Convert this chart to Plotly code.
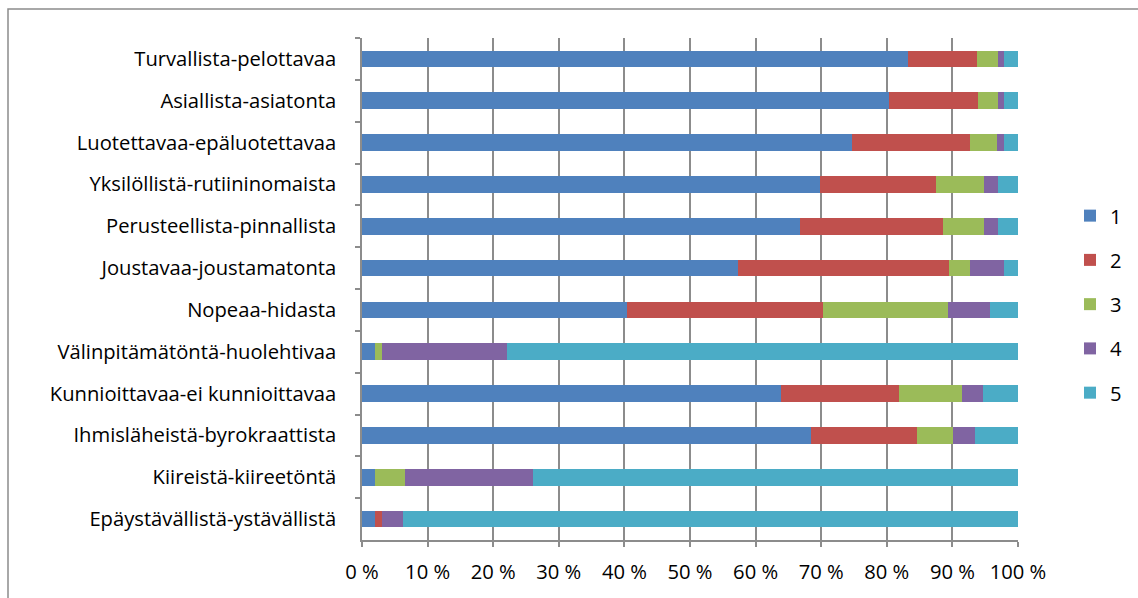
import plotly.graph_objects as go

categories = [
    "Turvallista-pelottavaa",
    "Asiallista-asiatonta",
    "Luotettavaa-epäluotettavaa",
    "Yksilöllistä-rutiininomaista",
    "Perusteellista-pinnallista",
    "Joustavaa-joustamatonta",
    "Nopeaa-hidasta",
    "Välinpitämätöntä-huolehtivaa",
    "Kunnioittavaa-ei kunnioittavaa",
    "Ihmisläheistä-byrokraattista",
    "Kiireistä-kiireetöntä",
    "Epäystävällistä-ystävällistä",
]

s1 = [83.3, 80.4, 74.7, 69.8, 66.7, 57.3, 40.4, 2.0, 63.9, 68.4, 2.0, 2.0]
s2 = [10.5, 13.5, 18.0, 17.7, 21.8, 32.2, 29.8, 0.0, 17.9, 16.2, 0.0, 1.1]
s3 = [3.1, 3.0, 4.1, 7.3, 6.3, 3.2, 19.2, 1.1, 9.6, 5.5, 4.5, 0.0]
s4 = [1.0, 1.0, 1.0, 2.1, 2.1, 5.2, 6.4, 19.0, 3.2, 3.3, 19.5, 3.2]
s5 = [2.1, 2.1, 2.2, 3.1, 3.1, 2.1, 4.2, 77.9, 5.4, 6.6, 74.0, 93.7]

series_names = ["1", "2", "3", "4", "5"]
series_values = [s1, s2, s3, s4, s5]
colors = ["#4F81BD", "#C0504D", "#9BBB59", "#8064A2", "#4BACC6"]

FONT = "Open Sans"
FS = 20.2

fig = go.Figure()
for name, vals, col in zip(series_names, series_values, colors):
    fig.add_trace(go.Bar(
        y=categories, x=vals, name=name, orientation="h",
        marker=dict(color=col, line=dict(width=0)),
        legendgroup=name,
    ))

W, H = 1138, 598
L, R, T, B = 362, 120, 38, 58
pw, ph = W - L - R, H - T - B

fig.update_layout(
    width=W, height=H,
    barmode="stack", bargap=0.6,
    plot_bgcolor="white", paper_bgcolor="white",
    margin=dict(l=L, r=R, t=T, b=B, autoexpand=False),
    font=dict(family=FONT, size=FS, color="#000000"),
    showlegend=True,
    legend=dict(
        x=1.0 + (1070 - 1018) / pw, y=1 - (196 - T) / ph,
        xanchor="left", yanchor="top",
        traceorder="grouped", tracegroupgap=15,
        font=dict(family=FONT, size=FS),
        itemwidth=30, borderwidth=0,
        bgcolor="rgba(0,0,0,0)",
    ),
    xaxis=dict(
        range=[0, 100], dtick=10, tick0=0,
        ticksuffix=" %",
        showgrid=True, gridcolor="#8C8C8C", gridwidth=1.5,
        showline=True, linecolor="#8C8C8C", linewidth=1.5,
        ticks="outside", ticklen=5, tickcolor="#8C8C8C", tickwidth=1.5,
        zeroline=False,
        ticklabelstandoff=8,
        tickfont=dict(family=FONT, size=FS),
    ),
    yaxis=dict(
        autorange="reversed",
        type="category",
        showline=True, linecolor="#8C8C8C", linewidth=1.5,
        ticks="outside", ticklen=5, tickcolor="#8C8C8C", tickwidth=1.5,
        tickson="boundaries",
        showgrid=False,
        ticklabelstandoff=20,
        tickfont=dict(family=FONT, size=FS),
    ),
)

# outer chart border (Excel chart area)
fig.add_shape(
    type="rect", xref="paper", yref="paper",
    x0=(8 - L) / pw, x1=(1145 - L) / pw,
    y0=-(H + 20 - (T + ph)) / ph, y1=1 + (T - 9) / ph,
    line=dict(color="#8C8C8C", width=1.5), fillcolor="rgba(0,0,0,0)",
    layer="below",
)

fig.write_html("out.html")
